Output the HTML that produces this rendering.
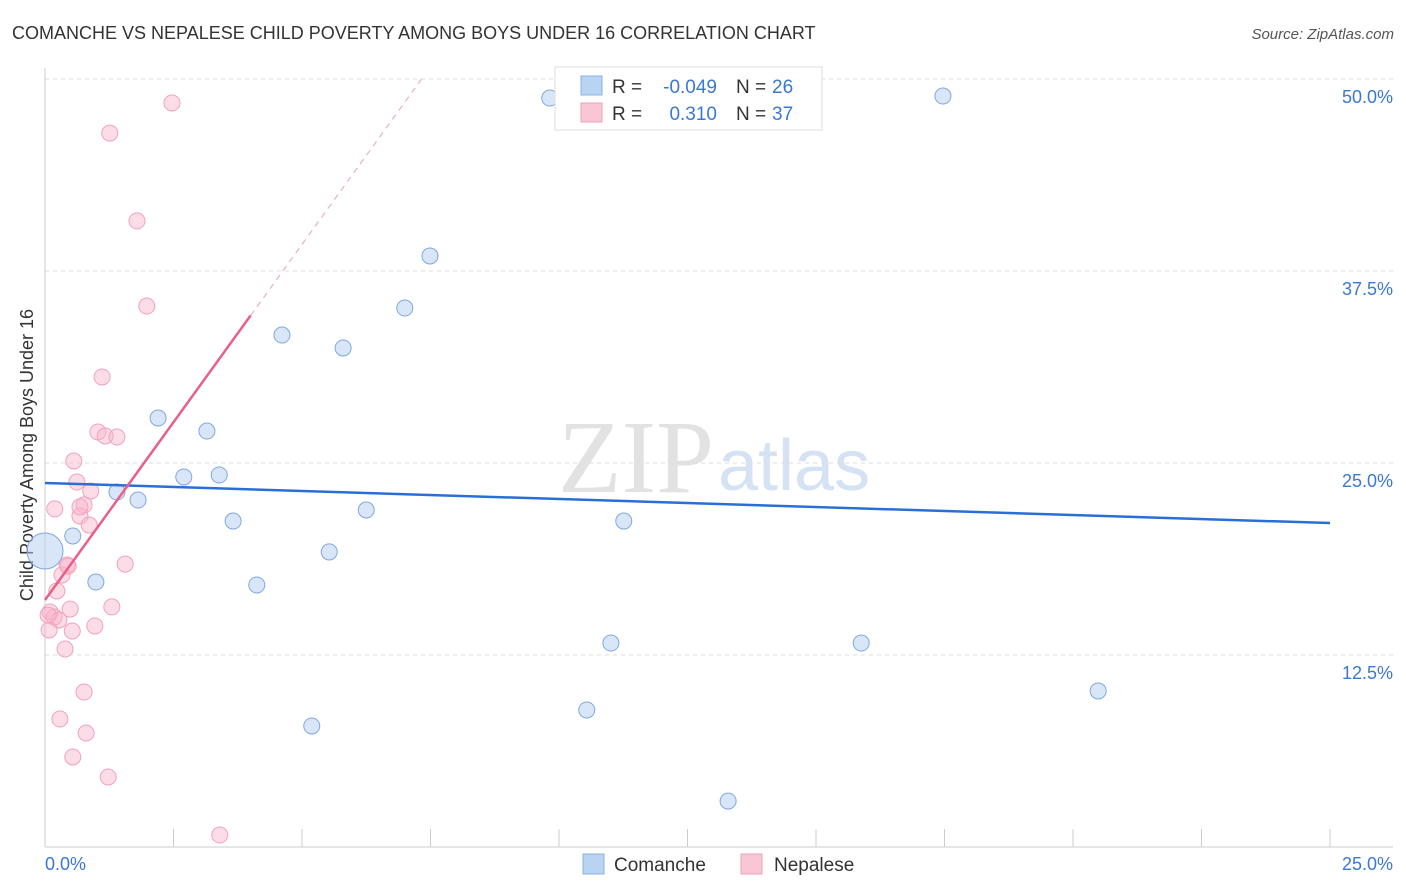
<!DOCTYPE html>
<html><head><meta charset="utf-8"><style>
body{margin:0;background:#fff;font-family:"Liberation Sans",sans-serif;}
svg{display:block}
</style></head><body>
<svg id="chart" width="1406" height="892">
<text x="12" y="39" font-size="18" fill="#333">COMANCHE VS NEPALESE CHILD POVERTY AMONG BOYS UNDER 16 CORRELATION CHART</text>
<text x="1394" y="39" font-size="15" fill="#555" font-style="italic" text-anchor="end">Source: ZipAtlas.com</text>
<text x="714" y="492" font-size="104" fill="#e2e2e2" text-anchor="end" font-family="Liberation Serif,serif">ZIP</text>
<text x="718" y="490" font-size="72" fill="#d4e2f4">atlas</text>
<text transform="translate(33,455) rotate(-90)" font-size="18" fill="#333" text-anchor="middle">Child Poverty Among Boys Under 16</text>
<g id="grid"></g><g id="marks"></g>
<g>
<rect x="555" y="67" width="267" height="63" fill="#fff" stroke="#ddd"/>
<rect x="581" y="76" width="21" height="19" fill="#b9d3f3" stroke="#8ab0e0"/>
<rect x="581" y="103" width="21" height="19" fill="#f9c6d6" stroke="#efa0b9"/>
<text x="612" y="93" font-size="19" fill="#333">R =</text>
<text x="717" y="93" font-size="19" fill="#3a78d4" text-anchor="end">-0.049</text>
<text x="736" y="93" font-size="19" fill="#333">N =</text>
<text x="772" y="93" font-size="19" fill="#3a78d4">26</text>
<text x="612" y="120" font-size="19" fill="#333">R =</text>
<text x="717" y="120" font-size="19" fill="#3a78d4" text-anchor="end">0.310</text>
<text x="736" y="120" font-size="19" fill="#333">N =</text>
<text x="772" y="120" font-size="19" fill="#3a78d4">37</text>
</g>
<g>
<rect x="583" y="854" width="21" height="20" fill="#b9d3f3" stroke="#8ab0e0"/>
<text x="614" y="871" font-size="19" fill="#333">Comanche</text>
<rect x="741" y="854" width="21" height="20" fill="#f9c6d6" stroke="#efa0b9"/>
<text x="774" y="871" font-size="19" fill="#333">Nepalese</text>
</g>
</svg>
<script>
const yTicks=[12.5,25,37.5,50];
const yTickLabels=["12.5%","25.0%","37.5%","50.0%"];
const xTickLabels=["0.0%","25.0%"];
const comancheX=[9.82,17.47,7.49,7.0,4.61,5.80,2.20,3.15,2.70,3.39,1.40,1.81,3.66,6.25,11.26,0.54,5.53,0.99,4.12,11.01,15.88,20.49,10.54,5.19,13.29];
const comancheY=[48.76,48.89,38.48,35.09,33.33,32.49,27.93,27.08,24.09,24.22,23.11,22.59,21.22,21.94,21.22,20.25,19.21,17.25,17.06,13.28,13.28,10.16,8.92,7.88,2.99];
const comancheBig=[0,19.27];
const nepalX=[2.47,1.26,1.79,1.98,1.11,1.03,1.17,1.40,0.56,0.62,0.89,0.19,0.76,0.68,0.86,0.43,1.56,0.33,0.23,0.49,1.30,0.10,0.18,0.27,0.97,0.53,0.08,0.39,0.76,0.29,0.80,0.54,1.23,3.40,0.68,0.45,0.06];
const nepalY=[48.44,46.48,40.76,35.22,30.60,27.02,26.76,26.69,25.13,23.76,23.18,22.01,22.27,21.55,20.96,18.36,18.42,17.71,16.67,15.49,15.63,15.30,14.97,14.78,14.39,14.06,14.13,12.89,10.09,8.33,7.42,5.86,4.56,0.78,22.14,18.29,15.1];
const blueTrend=[23.70,21.09];
const pinkTrend=[16.08,4.63];
const X=v=>45+v/25*1285, Y=v=>847-v/12.5*192;
const NS="http://www.w3.org/2000/svg";
const grid=document.getElementById('grid'), marks=document.getElementById('marks');
function mk(p,tag,a){const e=document.createElementNS(NS,tag);for(const k in a)e.setAttribute(k,a[k]);p.appendChild(e);return e;}
yTicks.forEach((t,i)=>{
 const l=mk(grid,'line',{x1:45,x2:1393,y1:Y(t),y2:Y(t),stroke:'#ddd','stroke-dasharray':'4,4'});
 
 
 const tx=mk(grid,'text',{x:1393,y:Y(t)+24,'font-size':18,fill:'#3a78d4','text-anchor':'end'});tx.textContent=yTickLabels[i];
 
 
});
mk(grid,'line',{x1:45,x2:45,y1:68,y2:847,stroke:'#ccc'});
mk(grid,'line',{x1:45,x2:1393,y1:847,y2:847,stroke:'#ccc'});
for(let i=0;i<=10;i++){const t=mk(grid,'line',{x1:X(i*2.5),x2:X(i*2.5),y1:829,y2:847,stroke:'#ccc'});
 
 }
[[0,'start',45],[25,'end',1393]].forEach((d,i)=>{const t=mk(grid,'text',{x:d[2],y:870,'font-size':18,fill:'#3a78d4','text-anchor':d[1]});t.textContent=xTickLabels[i];
 
 });
nepalX.forEach((x,i)=>{const c=mk(marks,'circle',{cx:X(x),cy:Y(nepalY[i]),r:8,fill:'rgba(248,180,202,0.45)',stroke:'#f0a3bb','stroke-width':1});
 
 });
comancheX.forEach((x,i)=>{const c=mk(marks,'circle',{cx:X(x),cy:Y(comancheY[i]),r:8,fill:'rgba(180,206,242,0.5)',stroke:'#7fa8df','stroke-width':1});
 
 });
const big=mk(marks,'circle',{cx:X(comancheBig[0]),cy:Y(comancheBig[1]),r:18,fill:'rgba(180,206,242,0.5)',stroke:'#7fa8df'});


const bt=mk(marks,'line',{x1:X(0),y1:Y(blueTrend[0]),x2:X(25),y2:Y(blueTrend[1]),stroke:'#2a6fd6','stroke-width':2.5});


const xs=4, xe=(50-pinkTrend[0])/pinkTrend[1];
const pt=mk(marks,'line',{x1:X(0),y1:Y(pinkTrend[0]),x2:X(xs),y2:Y(pinkTrend[0]+pinkTrend[1]*xs),stroke:'#e8608a','stroke-width':2.5});


const pd=mk(marks,'line',{x1:X(xs),y1:Y(pinkTrend[0]+pinkTrend[1]*xs),x2:X(xe),y2:Y(50),stroke:'#eab0c2','stroke-width':1.2,'stroke-dasharray':'6,5'});


</script>
</body></html>
